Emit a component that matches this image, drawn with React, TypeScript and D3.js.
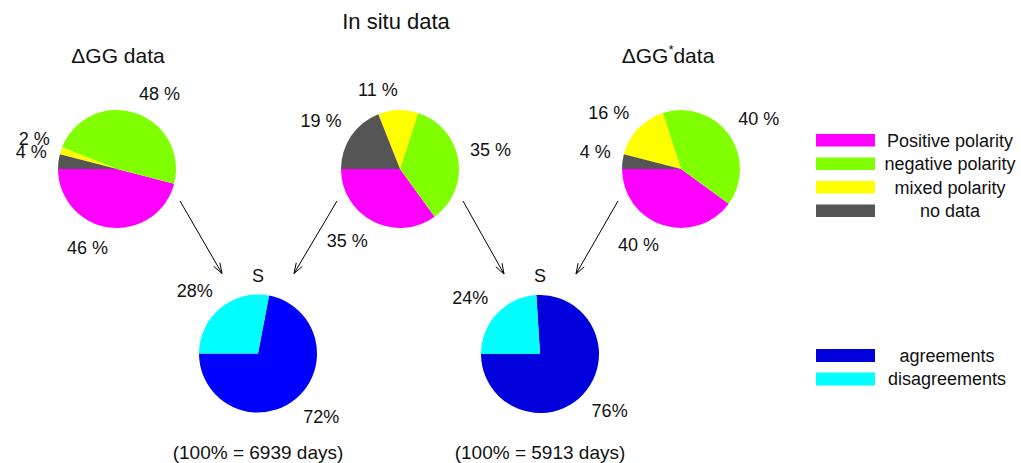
import React from "react";
import * as d3 from "d3";

const polarityCategories = ["Positive polarity", "negative polarity", "mixed polarity", "no data"];
const polarityColors = ["#ff00ff", "#80ff00", "#ffff00", "#555555"];
const dggValues = [46, 48, 2, 4];
const inSituValues = [35, 35, 11, 19];
const dggStarValues = [40, 40, 16, 4];

const agreementCategories = ["agreements", "disagreements"];
const agreementLegendColors = ["#0000dd", "#00ffff"];
const s1Values = [72, 28];
const s2Values = [76, 24];
const s1Colors = ["#0000ff", "#00ffff"];
const s2Colors = ["#0000dd", "#00ffff"];
const totalDays = [6939, 5913];

const FONT = "'Liberation Sans', Arial, Helvetica, sans-serif";
const R = 59;

type PieSpec = {
  cx: number;
  cy: number;
  values: number[];
  colors: string[];
  spaced: boolean;
};

function Pie({ cx, cy, values, colors, spaced }: PieSpec) {
  const pie = d3
    .pie<number>()
    .sort(null)
    .value((d) => d)
    .startAngle(-Math.PI / 2)
    .endAngle(-Math.PI / 2 - 2 * Math.PI);
  const arcs = pie(values);
  const arc = d3.arc<d3.PieArcDatum<number>>().innerRadius(0).outerRadius(R);
  const total = d3.sum(values);
  return (
    <g>
      <g transform={`translate(${cx},${cy})`}>
        {arcs.map((a, i) => (
          <path key={i} d={arc(a) || ""} fill={colors[i]} />
        ))}
      </g>
      {arcs.map((a, i) => {
        const mid = (a.startAngle + a.endAngle) / 2; // d3 angle (0 at top, clockwise)
        const sx = Math.sin(mid);
        const cyv = -Math.cos(mid); // screen y direction
        const lx = cx + 1.2 * R * sx;
        const ly = cy + 1.2 * R * cyv;
        const anchor = sx >= 0 ? "start" : "end";
        const baseline = cyv < 0 ? ly - 2 : ly + 15;
        const pct = Math.round((values[i] / total) * 100);
        return (
          <text key={i} x={lx} y={baseline} textAnchor={anchor} fontSize={18} fontFamily={FONT} fill="#111">
            {spaced ? `${pct} %` : `${pct}%`}
          </text>
        );
      })}
    </g>
  );
}

function Arrow({ x1, y1, x2, y2 }: { x1: number; y1: number; x2: number; y2: number }) {
  const ang = Math.atan2(y2 - y1, x2 - x1);
  const L = 11;
  const w = 0.33;
  const p1 = [x2 - L * Math.cos(ang - w), y2 - L * Math.sin(ang - w)];
  const p2 = [x2 - L * Math.cos(ang + w), y2 - L * Math.sin(ang + w)];
  return (
    <g stroke="#000" strokeWidth={1} fill="none">
      <line x1={x1} y1={y1} x2={x2} y2={y2} />
      <polyline points={`${p1[0]},${p1[1]} ${x2},${y2} ${p2[0]},${p2[1]}`} />
    </g>
  );
}

export default function App() {
  const top = [
    { cx: 117, cy: 169, values: dggValues },
    { cx: 400, cy: 169, values: inSituValues },
    { cx: 681, cy: 169, values: dggStarValues },
  ];
  const bottom = [
    { cx: 258, cy: 353.5, values: s1Values, colors: s1Colors },
    { cx: 540, cy: 354, values: s2Values, colors: s2Colors },
  ];
  const links = [
    [0, 0, 1],
    [1, 0, -1],
    [1, 1, 1],
    [2, 1, -1],
  ];
  return (
    <svg
      width={1021}
      height={463}
      style={{ position: "absolute", left: 0, top: 0, background: "#fff" }}
      fontFamily={FONT}
    >
      <rect x={0} y={0} width={1021} height={463} fill="#fff" />
      <text x={396} y={29} textAnchor="middle" fontSize={22} fill="#111">
        In situ data
      </text>
      <text x={118} y={63} textAnchor="middle" fontSize={21} fill="#111">
        ΔGG data
      </text>
      <text x={668} y={63} textAnchor="middle" fontSize={21} fill="#111">
        ΔGG
        <tspan fontSize={13} dy={-9}>
          *
        </tspan>
        <tspan dy={9}>data</tspan>
      </text>

      {top.map((p, i) => (
        <Pie key={i} cx={p.cx} cy={p.cy} values={p.values} colors={polarityColors} spaced={true} />
      ))}
      {bottom.map((p, i) => (
        <g key={i}>
          <Pie cx={p.cx} cy={p.cy} values={p.values} colors={p.colors} spaced={false} />
          <text x={p.cx} y={282} textAnchor="middle" fontSize={18} fill="#111">
            S
          </text>
          <text x={p.cx} y={459} textAnchor="middle" fontSize={19} fill="#111">
            {`(100% = ${totalDays[i]} days)`}
          </text>
        </g>
      ))}

      {links.map(([s, t, dir], i) => {
        const src = top[s];
        const tgt = bottom[t];
        return (
          <Arrow
            key={i}
            x1={src.cx + dir * 63}
            y1={src.cy + 32}
            x2={tgt.cx - dir * 36}
            y2={tgt.cy - 80}
          />
        );
      })}

      {polarityCategories.map((c, i) => (
        <g key={c}>
          <rect x={816} y={134 + i * 23.5} width={59} height={12.5} fill={polarityColors[i]} />
          <text x={950} y={146.5 + i * 23.5} textAnchor="middle" fontSize={18} fill="#111">
            {c}
          </text>
        </g>
      ))}
      {agreementCategories.map((c, i) => (
        <g key={c}>
          <rect x={816} y={349 + i * 23.5} width={59} height={13} fill={agreementLegendColors[i]} />
          <text x={947} y={361.5 + i * 23.5} textAnchor="middle" fontSize={18} fill="#111">
            {c}
          </text>
        </g>
      ))}
    </svg>
  );
}
